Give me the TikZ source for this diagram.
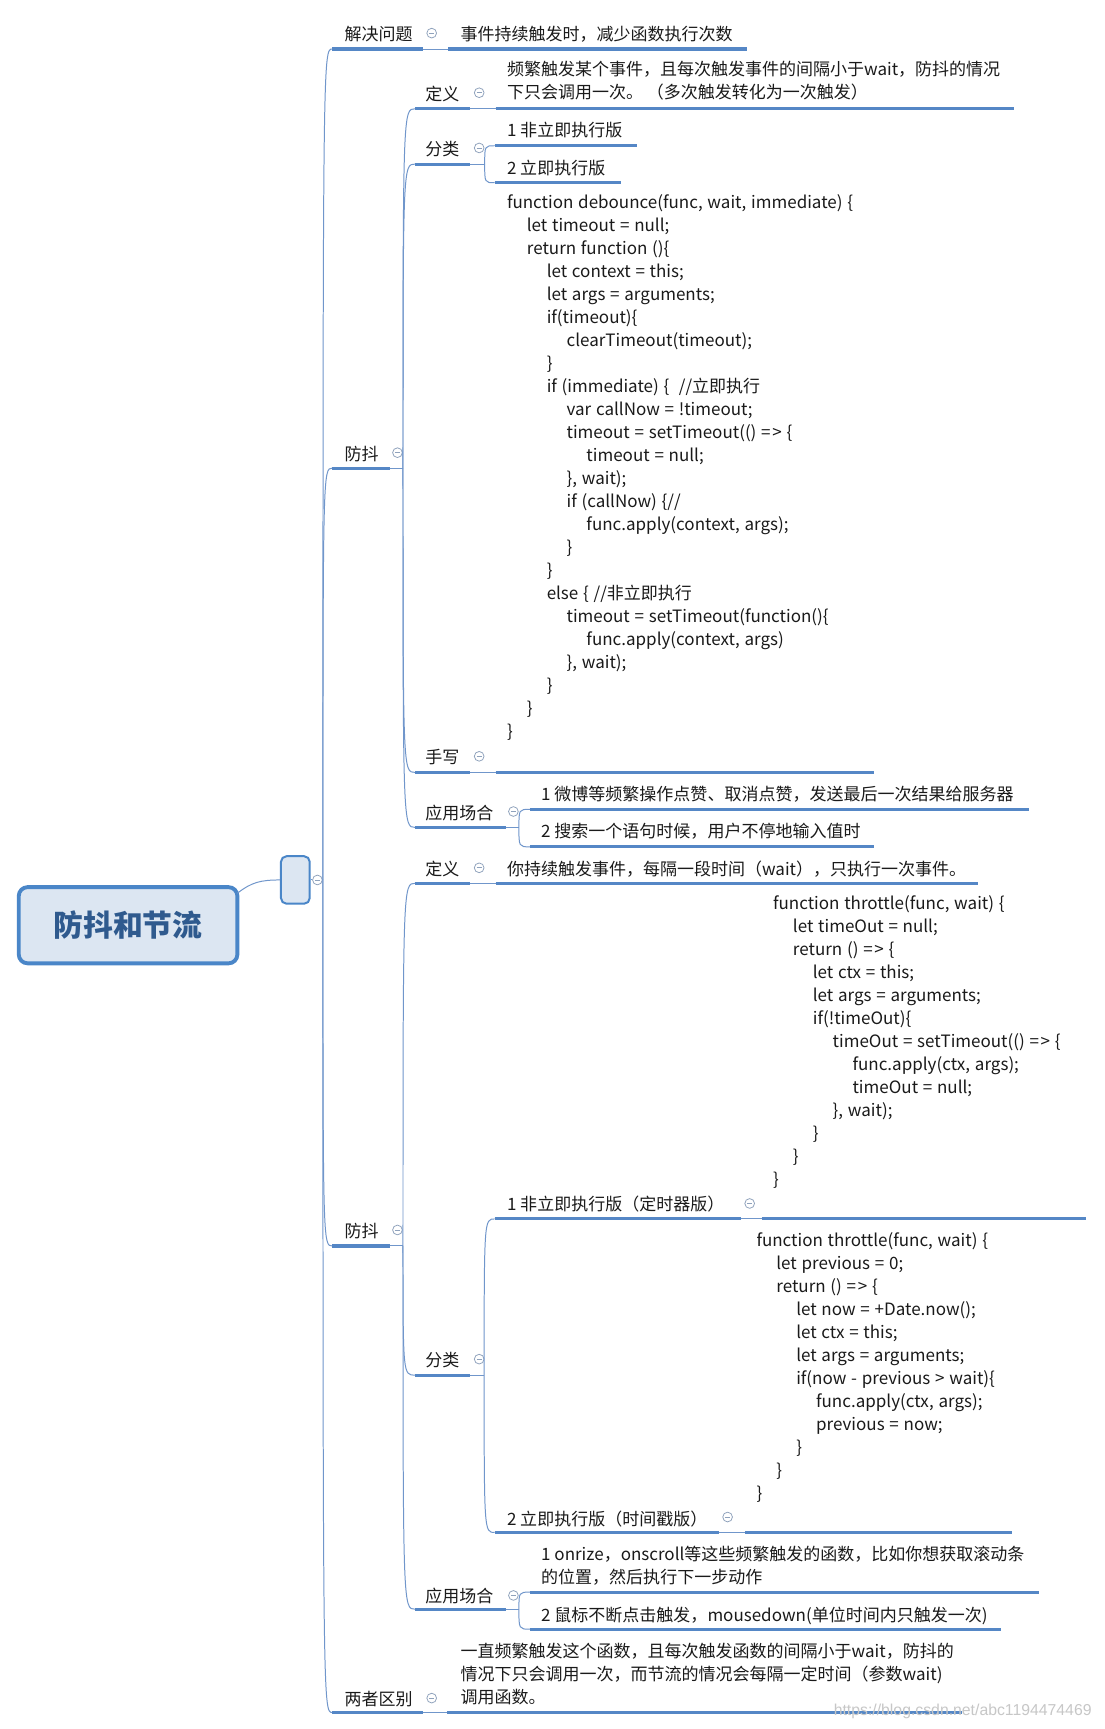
\documentclass[tikz,border=0pt]{standalone}
\usepackage{fontspec}
\setmainfont{Noto Sans CJK SC}
\newfontfamily\wmfont{Liberation Sans}
\usetikzlibrary{calc}
\definecolor{ulc}{HTML}{5587C6}
\definecolor{thc}{HTML}{7096CB}
\definecolor{foldc}{HTML}{8FA2BC}
\definecolor{txtc}{HTML}{1A1A1A}
\definecolor{rootfill}{HTML}{DCE6F2}
\definecolor{rootdraw}{HTML}{4A86C8}
\definecolor{roottxt}{HTML}{2F5A8E}
\newcommand\fs{\fontsize{15.4}{20.85}\selectfont}
\newcommand\ind[1]{\hspace*{#1pt}}
\newcommand\arr{=\kern1.5pt>}
\newcommand\widesp{\spaceskip=4.3pt\relax}
\newcommand\conn[2]{\draw[thinl] (#1) .. controls (#1 |- #2) .. (#2);}
\begin{document}
\begin{tikzpicture}[x=1pt,y=-1pt,
  uline/.style={draw=ulc,line width=2.8pt},
  thinl/.style={draw=thc,line width=0.9pt},
  txt/.style={anchor=north west,inner sep=0pt,align=left,font=\fs,text=txtc,yshift=-1pt,execute at begin node=\strut},
  codetxt/.style={txt,execute at begin node=\widesp},
  fold/.style={circle,draw=foldc,line width=0.7pt,inner sep=0pt,minimum size=8.8pt,fill=white,
    path picture={\draw[foldc,line width=0.7pt] ([xshift=-2.4pt]path picture bounding box.center) -- ([xshift=2.4pt]path picture bounding box.center);}},
  rootbox/.style={draw=rootdraw,line width=3.5pt,fill=rootfill,rounded corners=8pt,minimum width=198pt,minimum height=69pt,inner sep=0pt,font=\fontsize{27}{30}\selectfont\bfseries,text=roottxt},
  hubbox/.style={draw=rootdraw,line width=1.8pt,fill=rootfill,rounded corners=5pt,minimum width=26pt,minimum height=43pt,inner sep=0pt},
  wmark/.style={anchor=base west,inner sep=0pt,font=\wmfont\fontsize{14.3}{16}\selectfont,text=black!22}
]
\useasboundingbox (0,0) rectangle (1000,1566);
\fill[white] (0,0) rectangle (1000,1566);

% ---------- root ----------
\node[rootbox] (root) at (116,838) {防抖和节流};
\node[hubbox] (rb) at (267.5,797) {};
\coordinate (rootout) at (215,809);
\draw[thinl] (rootout) .. controls (228,799) and (236,797) .. (rb.west);
\node[fold] (f0) at (287.5,797) {};
\draw[thinl] (rb.east) -- (f0.west);
\coordinate (R) at (292.5,797);

% ---------- level 1 coordinates ----------
\coordinate (As) at (301,44.4);   \coordinate (Ae) at (383,44.4);
\coordinate (Bs) at (301,424);    \coordinate (Be) at (353,424);   \coordinate (BH) at (365,424);
\coordinate (Cs) at (301,1128.5); \coordinate (Ce) at (353,1128.5);\coordinate (CH) at (365,1128.5);
\coordinate (Ds) at (301,1551);   \coordinate (De) at (383,1551);

\conn{R}{As} \conn{R}{Bs} \conn{R}{Cs} \conn{R}{Ds}

% 解决问题
\draw[uline] (As) -- (Ae);
\node[txt] (A) at (312,21) {解决问题};
\node[fold] (fA) at (391,30) {};
\coordinate (Acs) at (406,44.4); \coordinate (Ace) at (677,44.4);
\draw[thinl] (Ae) -- (Acs);
\draw[uline] (Acs) -- (Ace);
\node[txt] (Ac) at (417,21) {事件持续触发时，减少函数执行次数};

% ---------- 防抖 (1) ----------
\draw[uline] (Bs) -- (Be);
\draw[thinl] (Be) -- (BH);
\node[txt] (B) at (312,401) {防抖};
\node[fold] (fB) at (360,410) {};

\coordinate (B1s) at (376,98.5);  \coordinate (B1e) at (426,98.5);
\coordinate (B2s) at (376,148.6); \coordinate (B2e) at (426,148.6); \coordinate (B2H) at (439,148.6);
\coordinate (B3s) at (376,699.6); \coordinate (B3e) at (426,699.6);
\coordinate (B4s) at (376,749.4); \coordinate (B4e) at (458,749.4); \coordinate (B4H) at (470,749.4);
\conn{BH}{B1s} \conn{BH}{B2s} \conn{BH}{B3s} \conn{BH}{B4s}

% 定义
\draw[uline] (B1s) -- (B1e);
\node[txt] (B1) at (385,75) {定义};
\node[fold] (fB1) at (434,84) {};
\coordinate (B1cs) at (449,98.5); \coordinate (B1ce) at (918,98.5);
\draw[thinl] (B1e) -- (B1cs);
\draw[uline] (B1cs) -- (B1ce);
\node[txt] (B1c) at (459,54) {频繁触发某个事件，且每次触发事件的间隔小于wait，防抖的情况\\下只会调用一次。 （多次触发转化为一次触发）};

% 分类
\draw[uline] (B2s) -- (B2e);
\draw[thinl] (B2e) -- (B2H);
\node[txt] (B2) at (385,125) {分类};
\node[fold] (fB2) at (434,134) {};
\coordinate (B2as) at (448,132);   \coordinate (B2ae) at (577,132);
\coordinate (B2bs) at (448,165.5); \coordinate (B2be) at (562,165.5);
\conn{B2H}{B2as} \conn{B2H}{B2bs}
\draw[uline] (B2as) -- (B2ae);
\draw[uline] (B2bs) -- (B2be);
\node[txt] (B2a) at (459,108) {1 非立即执行版};
\node[txt] (B2b) at (459,142) {2 立即执行版};

% 手写
\draw[uline] (B3s) -- (B3e);
\node[txt] (B3) at (385,676) {手写};
\node[fold] (fB3) at (434,685) {};
\coordinate (B3cs) at (449,699.6); \coordinate (B3ce) at (792,699.6);
\draw[thinl] (B3e) -- (B3cs);
\draw[uline] (B3cs) -- (B3ce);
\node[codetxt] (B3c) at (459,175) {function debounce(func, wait, immediate) \{\\
\ind{18}let timeout = null;\\
\ind{18}return function ()\{\\
\ind{36}let context = this;\\
\ind{36}let args = arguments;\\
\ind{36}if(timeout)\{\\
\ind{54}clearTimeout(timeout);\\
\ind{36}\}\\
\ind{36}if (immediate) \{\ \ //立即执行\\
\ind{54}var callNow = !timeout;\\
\ind{54}timeout = setTimeout(() \arr{} \{\\
\ind{72}timeout = null;\\
\ind{54}\}, wait);\\
\ind{54}if (callNow) \{//\\
\ind{72}func.apply(context, args);\\
\ind{54}\}\\
\ind{36}\}\\
\ind{36}else \{ //非立即执行\\
\ind{54}timeout = setTimeout(function()\{\\
\ind{72}func.apply(context, args)\\
\ind{54}\}, wait);\\
\ind{36}\}\\
\ind{18}\}\\
\}};

% 应用场合
\draw[uline] (B4s) -- (B4e);
\draw[thinl] (B4e) -- (B4H);
\node[txt] (B4) at (385,726) {应用场合};
\node[fold] (fB4) at (465,735) {};
\coordinate (B4as) at (480,733); \coordinate (B4ae) at (932,733);
\coordinate (B4bs) at (480,767); \coordinate (B4be) at (792,767);
\conn{B4H}{B4as} \conn{B4H}{B4bs}
\draw[uline] (B4as) -- (B4ae);
\draw[uline] (B4bs) -- (B4be);
\node[txt] (B4a) at (490,709) {1 微博等频繁操作点赞、取消点赞，发送最后一次结果给服务器};
\node[txt] (B4b) at (490,743) {2 搜索一个语句时候，用户不停地输入值时};

% ---------- 防抖 (2) ----------
\draw[uline] (Cs) -- (Ce);
\draw[thinl] (Ce) -- (CH);
\node[txt] (C) at (312,1105) {防抖};
\node[fold] (fC) at (360,1114) {};

\coordinate (C1s) at (376,800);    \coordinate (C1e) at (426,800);
\coordinate (C2s) at (376,1245.5); \coordinate (C2e) at (426,1245.5); \coordinate (C2H) at (438.5,1245.5);
\coordinate (C3s) at (376,1457.5); \coordinate (C3e) at (458,1457.5); \coordinate (C3H) at (470,1457.5);
\conn{CH}{C1s} \conn{CH}{C2s} \conn{CH}{C3s}

% 定义
\draw[uline] (C1s) -- (C1e);
\node[txt] (C1) at (385,777) {定义};
\node[fold] (fC1) at (434,786) {};
\coordinate (C1cs) at (449,800); \coordinate (C1ce) at (886,800);
\draw[thinl] (C1e) -- (C1cs);
\draw[uline] (C1cs) -- (C1ce);
\node[txt] (C1c) at (459,777) {你持续触发事件，每隔一段时间（wait），只执行一次事件。};

% 分类
\draw[uline] (C2s) -- (C2e);
\draw[thinl] (C2e) -- (C2H);
\node[txt] (C2) at (385,1222) {分类};
\node[fold] (fC2) at (434,1231) {};
\coordinate (C2as) at (448,1104); \coordinate (C2ae) at (671,1104);
\coordinate (C2bs) at (448,1388); \coordinate (C2be) at (651,1388);
\conn{C2H}{C2as} \conn{C2H}{C2bs}

\draw[uline] (C2as) -- (C2ae);
\node[txt] (C2a) at (459,1081) {1 非立即执行版（定时器版）};
\node[fold] (fC2a) at (679,1090) {};
\coordinate (C2acs) at (690,1104); \coordinate (C2ace) at (984,1104);
\draw[thinl] (C2ae) -- (C2acs);
\draw[uline] (C2acs) -- (C2ace);
\node[codetxt] (C2ac) at (700,810) {function throttle(func, wait) \{\\
\ind{18}let timeOut = null;\\
\ind{18}return () \arr{} \{\\
\ind{36}let ctx = this;\\
\ind{36}let args = arguments;\\
\ind{36}if(!timeOut)\{\\
\ind{54}timeOut = setTimeout(() \arr{} \{\\
\ind{72}func.apply(ctx, args);\\
\ind{72}timeOut = null;\\
\ind{54}\}, wait);\\
\ind{36}\}\\
\ind{18}\}\\
\}};

\draw[uline] (C2bs) -- (C2be);
\node[txt] (C2b) at (459,1366) {2 立即执行版（时间戳版）};
\node[fold] (fC2b) at (659,1374) {};
\coordinate (C2bcs) at (675,1388); \coordinate (C2bce) at (917,1388);
\draw[thinl] (C2be) -- (C2bcs);
\draw[uline] (C2bcs) -- (C2bce);
\node[codetxt] (C2bc) at (685,1115) {function throttle(func, wait) \{\\
\ind{18}let previous = 0;\\
\ind{18}return () \arr{} \{\\
\ind{36}let now = +Date.now();\\
\ind{36}let ctx = this;\\
\ind{36}let args = arguments;\\
\ind{36}if(now - previous > wait)\{\\
\ind{54}func.apply(ctx, args);\\
\ind{54}previous = now;\\
\ind{36}\}\\
\ind{18}\}\\
\}};

% 应用场合
\draw[uline] (C3s) -- (C3e);
\draw[thinl] (C3e) -- (C3H);
\node[txt] (C3) at (385,1436) {应用场合};
\node[fold] (fC3) at (465,1445) {};
\coordinate (C3as) at (480,1442);   \coordinate (C3ae) at (941,1442);
\coordinate (C3bs) at (480,1475.6); \coordinate (C3be) at (907,1475.6);
\conn{C3H}{C3as} \conn{C3H}{C3bs}
\draw[uline] (C3as) -- (C3ae);
\draw[uline] (C3bs) -- (C3be);
\node[txt] (C3a) at (490,1399) {1 onrize，onscroll等这些频繁触发的函数，比如你想获取滚动条\\的位置，然后执行下一步动作};
\node[txt] (C3b) at (490,1453) {2 鼠标不断点击触发，mousedown(单位时间内只触发一次)};

% ---------- 两者区别 ----------
\draw[uline] (Ds) -- (De);
\node[txt] (D) at (312,1529) {两者区别};
\node[fold] (fD) at (391,1538) {};
\coordinate (Dcs) at (405,1551); \coordinate (Dce) at (871,1551);
\draw[thinl] (De) -- (Dcs);
\draw[uline] (Dcs) -- (Dce);
\node[txt] (Dc) at (417,1487) {一直频繁触发这个函数，且每次触发函数的间隔小于wait，防抖的\\情况下只会调用一次，而节流的情况会每隔一定时间（参数wait)\\调用函数。};

% watermark
\node[wmark] (wm) at (755,1554) {https://blog.csdn.net/abc1194474469};
\end{tikzpicture}
\end{document}
